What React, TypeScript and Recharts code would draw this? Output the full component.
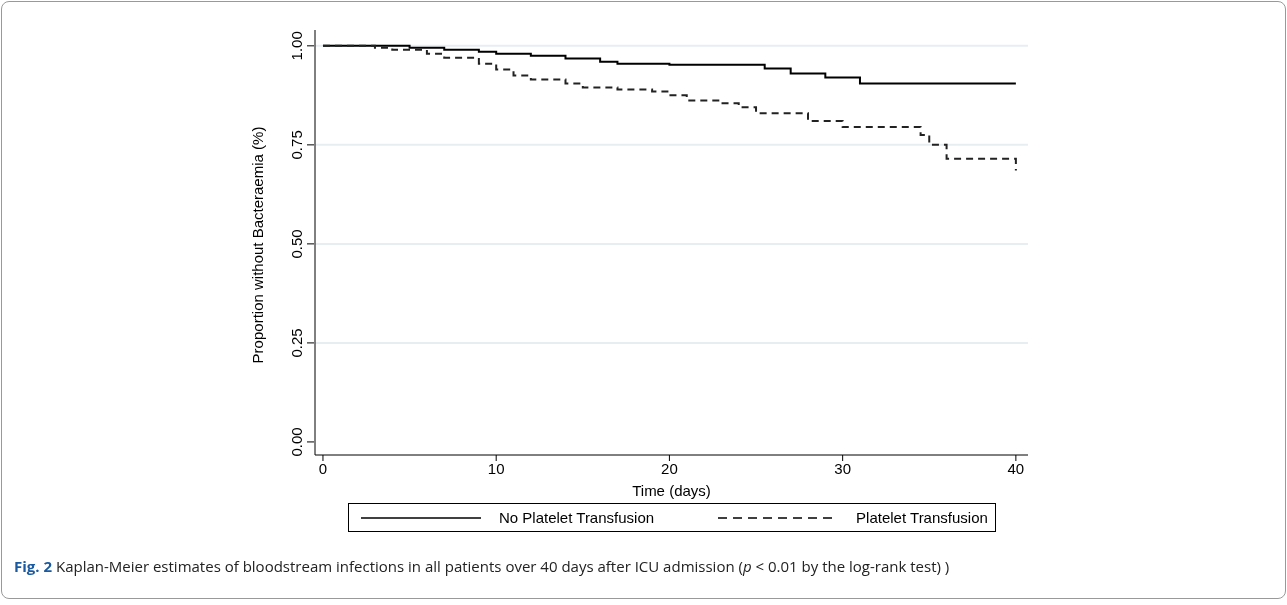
import React from "react";
import { LineChart, Line, XAxis, YAxis, ReferenceLine } from "recharts";

const noTxTime = [0, 3, 5, 7, 9, 10, 12, 14, 16, 17, 20, 25, 25.5, 27, 29, 31, 40];
const noTxSurv = [1.0, 1.0, 0.995, 0.99, 0.985, 0.98, 0.975, 0.968, 0.96, 0.955, 0.952, 0.952, 0.943, 0.93, 0.92, 0.905, 0.905];
const txTime = [0, 3, 4, 6, 7, 9, 10, 11, 12, 14, 15, 17, 19, 20, 21, 23, 24, 25, 28, 30, 34.5, 35, 36, 39.7, 40];
const txSurv = [1.0, 0.995, 0.99, 0.98, 0.97, 0.955, 0.94, 0.925, 0.915, 0.905, 0.895, 0.89, 0.885, 0.875, 0.862, 0.855, 0.845, 0.83, 0.81, 0.795, 0.775, 0.75, 0.715, 0.715, 0.685];
const xTicks = [0, 10, 20, 30, 40];
const yTicks = [0, 0.25, 0.5, 0.75, 1];
const gridLines = [0.25, 0.5, 0.75, 1];

const noTxData = noTxTime.map((t, i) => ({ t, s: noTxSurv[i] }));
const txData = txTime.map((t, i) => ({ t, s: txSurv[i] }));
const font = "'Liberation Sans', Arial, sans-serif";

const YTick = (p: any) => (
  <g>
    <line x1={p.x} x2={p.x + 7} y1={p.y} y2={p.y} stroke="#000" />
    <text x={p.x - 5} y={p.y} transform={`rotate(-90 ${p.x - 5} ${p.y})`} textAnchor="middle" fontSize={15} fontFamily={font} fill="#000">
      {p.payload.value.toFixed(2)}
    </text>
  </g>
);

export default function App() {
  return (
    <div style={{ position: "fixed", left: 0, top: 0, width: 1287, height: 605, fontFamily: font }}>
      <div style={{ position: "absolute", left: 1, top: 1, width: 1283, height: 596, border: "1px solid #999", borderRadius: 8 }} />
      <div style={{ position: "absolute", left: 0, top: 0 }}>
        <LineChart width={1287} height={600} margin={{ top: 30, right: 259, left: 0, bottom: 0 }}>
          {gridLines.map((g) => (
            <ReferenceLine key={g} y={g} stroke="#e6eef2" strokeWidth={2} segment={[{ x: -0.2, y: g }, { x: 40.2, y: g }]} />
          ))}
          <XAxis dataKey="t" type="number" domain={[-0.46, 40.7]} ticks={xTicks} height={145} allowDuplicatedCategory={false}
            tick={{ fontSize: 15, fill: "#000", fontFamily: font }} tickSize={6} stroke="#000" axisLine={{ stroke: "#000" }}
            label={{ value: "Time (days)", position: "insideTop", offset: 30, fontSize: 15, fill: "#000", fontFamily: font }} />
          <YAxis type="number" domain={[-0.033, 1.04]} ticks={yTicks} width={315} stroke="#000" tickLine={false} tick={<YTick />} />
          <Line data={noTxData} dataKey="s" type="stepAfter" stroke="#000" strokeWidth={2} dot={false} isAnimationActive={false} />
          <Line data={txData} dataKey="s" type="stepAfter" stroke="#222" strokeWidth={2} strokeDasharray="7 5" dot={false} isAnimationActive={false} />
          <text x={263} y={245} transform="rotate(-90 263 245)" textAnchor="middle" fontSize={15} fontFamily={font} fill="#000">
            Proportion without Bacteraemia (%)
          </text>
        </LineChart>
      </div>
      <div style={{ position: "absolute", left: 348, top: 503, width: 646, height: 27, border: "1px solid #000", display: "flex", alignItems: "center", fontSize: 15 }}>
        <svg width={120} height={10} style={{ marginLeft: 12 }}><line x1={0} x2={120} y1={5} y2={5} stroke="#000" strokeWidth={1.5} /></svg>
        <span style={{ marginLeft: 18 }}>No Platelet Transfusion</span>
        <svg width={120} height={10} style={{ marginLeft: 64 }}><line x1={0} x2={120} y1={5} y2={5} stroke="#000" strokeWidth={1.5} strokeDasharray="9 6" /></svg>
        <span style={{ marginLeft: 18 }}>Platelet Transfusion</span>
      </div>
      <div style={{ position: "absolute", left: 14, top: 556, fontFamily: "'Open Sans', sans-serif", fontSize: 15, color: "#222" }}>
        <span style={{ fontWeight: "bold", color: "#1a5aa0" }}>Fig. 2</span> Kaplan-Meier estimates of bloodstream infections in all patients over 40 days after ICU admission (<i>p</i> &lt; 0.01 by the log-rank test) )
      </div>
    </div>
  );
}
